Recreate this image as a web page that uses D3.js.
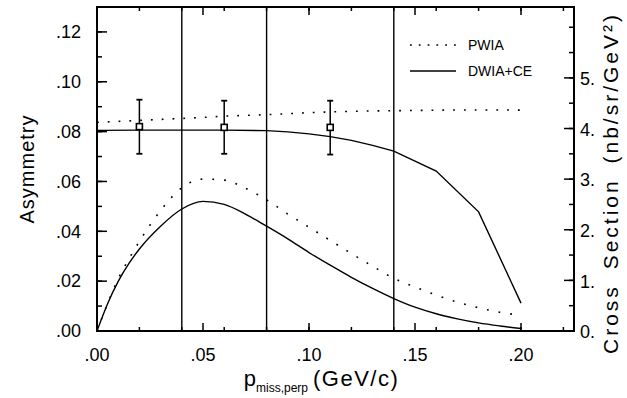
<!DOCTYPE html>
<html>
<head>
<meta charset="utf-8">
<script src="https://cdn.jsdelivr.net/npm/d3@7"></script>
<style>
  body { margin: 0; background: #fff; }
  text { font-family: "Liberation Sans", Arial, sans-serif; fill: #000; }
</style>
</head>
<body>
<div id="chart"></div>
<script>
// p_miss,perp values (GeV/c)
var pGrid = [0, 0.01, 0.02, 0.03, 0.04, 0.05, 0.06, 0.07, 0.08, 0.09, 0.10, 0.11, 0.12, 0.13, 0.14, 0.15, 0.16, 0.17, 0.18, 0.19, 0.20];
var pwiaAsym = [0.0837, 0.0841, 0.0845, 0.0849, 0.0853, 0.0857, 0.0862, 0.0865, 0.0868, 0.0872, 0.0876, 0.0879, 0.0881, 0.0883, 0.0884, 0.0885, 0.0886, 0.0887, 0.0887, 0.0887, 0.0886];
var dwiaPts = [0, 0.02, 0.04, 0.06, 0.08, 0.09, 0.10, 0.11, 0.12, 0.13, 0.14, 0.16, 0.18, 0.20];
var dwiaAsym = [0.0805, 0.0806, 0.0806, 0.0806, 0.0804, 0.0799, 0.0791, 0.0780, 0.0765, 0.0745, 0.0722, 0.0642, 0.0478, 0.0112];

// cross sections (nb/sr/GeV^2)
var csGrid = [0, 0.005, 0.01, 0.015, 0.02, 0.03, 0.04, 0.05, 0.06, 0.07, 0.08, 0.09, 0.10, 0.11, 0.12, 0.13, 0.14, 0.15, 0.16, 0.17, 0.18, 0.19, 0.20];
var pwiaCs = [0, 0.54, 1.03, 1.42, 1.77, 2.38, 2.83, 3.0, 2.98, 2.82, 2.59, 2.31, 2.05, 1.79, 1.53, 1.28, 1.04, 0.87, 0.71, 0.57, 0.46, 0.37, 0.31];
var dwiaCs = [0, 0.54, 0.98, 1.33, 1.62, 2.07, 2.41, 2.56, 2.5, 2.31, 2.07, 1.82, 1.55, 1.3, 1.06, 0.84, 0.64, 0.47, 0.34, 0.24, 0.16, 0.1, 0.05];

// measured asymmetries
var dataP = [0.02, 0.06, 0.11];
var dataA = [0.0820, 0.0817, 0.0817];
var dataHi = [0.0928, 0.0924, 0.0924];
var dataLo = [0.0711, 0.0711, 0.0708];

// bin edges
var binEdges = [0.04, 0.08, 0.14];

var xTicks = [0, 0.05, 0.10, 0.15, 0.20];
var xTickLabels = [".00", ".05", ".10", ".15", ".20"];
var yTicks = [0, 0.02, 0.04, 0.06, 0.08, 0.10, 0.12];
var yTickLabels = [".00", ".02", ".04", ".06", ".08", ".10", ".12"];
var rTicks = [0, 1, 2, 3, 4, 5];
var rTickLabels = ["0.", "1.", "2.", "3.", "4.", "5."];

var width = 627, height = 398;
var margin = {left: 97, right: 53, top: 7, bottom: 67};

var svg = d3.select('#chart')
  .append('svg')
  .attr('width', width)
  .attr('height', height);

var x = d3.scaleLinear().domain([0, 0.225]).range([margin.left, width - margin.right]);
var y = d3.scaleLinear().domain([0, 0.13]).range([height - margin.bottom, margin.top]);
var yR = d3.scaleLinear().domain([0, 6.4]).range([height - margin.bottom, margin.top]);

var x0 = x.range()[0], x1 = x.range()[1], yb = y.range()[0], yt = y.range()[1];

// ticks, all pointing inward
var tg = svg.append('g').attr('stroke', '#000').attr('stroke-width', 1.5);
function tickSet(vals, scale, orient, len) {
  vals.forEach(function(v) {
    var p = scale(v);
    if (orient === 'bottom') tg.append('line').attr('x1', p).attr('x2', p).attr('y1', yb).attr('y2', yb - len);
    if (orient === 'top') tg.append('line').attr('x1', p).attr('x2', p).attr('y1', yt).attr('y2', yt + len);
    if (orient === 'left') tg.append('line').attr('x1', x0).attr('x2', x0 + len).attr('y1', p).attr('y2', p);
    if (orient === 'right') tg.append('line').attr('x1', x1).attr('x2', x1 - len).attr('y1', p).attr('y2', p);
  });
}
tickSet(x.ticks(9), x, 'bottom', 4);
tickSet(xTicks, x, 'bottom', 8);
tickSet(x.ticks(9), x, 'top', 4);
tickSet(xTicks, x, 'top', 8);
tickSet(d3.range(0, 0.13, 0.01), y, 'left', 5);
tickSet(yTicks, y, 'left', 10);
tickSet(d3.range(0, 6.4, 0.5), yR, 'right', 5);
tickSet(rTicks, yR, 'right', 10);

// frame
svg.append('rect')
  .attr('x', x0).attr('y', yt)
  .attr('width', x1 - x0).attr('height', yb - yt)
  .attr('fill', 'none').attr('stroke', '#000').attr('stroke-width', 2);

// bin edges
svg.selectAll('.edge')
  .data(binEdges)
  .enter()
  .append('line')
  .attr('x1', function(d) { return x(d); })
  .attr('x2', function(d) { return x(d); })
  .attr('y1', yt).attr('y2', yb)
  .attr('stroke', '#000').attr('stroke-width', 1.4);

var lineA = d3.line().curve(d3.curveMonotoneX)
  .x(function(d) { return x(d[0]); })
  .y(function(d) { return y(d[1]); });
var lineAlin = d3.line()
  .x(function(d) { return x(d[0]); })
  .y(function(d) { return y(d[1]); });
var lineC = d3.line().curve(d3.curveMonotoneX)
  .x(function(d) { return x(d[0]); })
  .y(function(d) { return yR(d[1]); });

svg.append('path')
  .attr('d', lineA(d3.zip(pGrid, pwiaAsym)))
  .attr('fill', 'none').attr('stroke', '#000').attr('stroke-width', 1.6)
  .attr('stroke-dasharray', '1.8,9');
svg.append('path')
  .attr('d', lineAlin(d3.zip(dwiaPts, dwiaAsym)))
  .attr('fill', 'none').attr('stroke', '#000').attr('stroke-width', 1.4);
svg.append('path')
  .attr('d', lineC(d3.zip(csGrid, pwiaCs)))
  .attr('fill', 'none').attr('stroke', '#000').attr('stroke-width', 1.6)
  .attr('stroke-dasharray', '1.8,10');
svg.append('path')
  .attr('d', lineC(d3.zip(csGrid, dwiaCs)))
  .attr('fill', 'none').attr('stroke', '#000').attr('stroke-width', 1.4);

// data points with error bars
var pts = svg.selectAll('.pt')
  .data(d3.range(dataP.length))
  .enter()
  .append('g');
pts.append('line')
  .attr('x1', function(i) { return x(dataP[i]); })
  .attr('x2', function(i) { return x(dataP[i]); })
  .attr('y1', function(i) { return y(dataHi[i]); })
  .attr('y2', function(i) { return y(dataLo[i]); })
  .attr('stroke', '#000').attr('stroke-width', 1.5);
[dataHi, dataLo].forEach(function(arr) {
  pts.append('line')
    .attr('x1', function(i) { return x(dataP[i]) - 3; })
    .attr('x2', function(i) { return x(dataP[i]) + 3; })
    .attr('y1', function(i) { return y(arr[i]); })
    .attr('y2', function(i) { return y(arr[i]); })
    .attr('stroke', '#000').attr('stroke-width', 1.8);
});
pts.append('rect')
  .attr('x', function(i) { return x(dataP[i]) - 3; })
  .attr('y', function(i) { return y(dataA[i]) - 3; })
  .attr('width', 6).attr('height', 6)
  .attr('fill', '#fff').attr('stroke', '#000').attr('stroke-width', 1.6);

// tick labels
svg.selectAll('.xl')
  .data(xTicks)
  .enter()
  .append('text')
  .attr('x', function(d) { return x(d); })
  .attr('y', yb + 30)
  .attr('text-anchor', 'middle')
  .attr('font-size', 18)
  .text(function(d, i) { return xTickLabels[i]; });
svg.selectAll('.yl')
  .data(yTicks)
  .enter()
  .append('text')
  .attr('x', x0 - 16)
  .attr('y', function(d) { return y(d); })
  .attr('dy', '0.35em')
  .attr('text-anchor', 'end')
  .attr('font-size', 18)
  .text(function(d, i) { return yTickLabels[i]; });
svg.selectAll('.rl')
  .data(rTicks)
  .enter()
  .append('text')
  .attr('x', x1 + 6)
  .attr('y', function(d) { return yR(d); })
  .attr('dy', '0.4em')
  .attr('font-size', 18)
  .text(function(d, i) { return rTickLabels[i]; });

// axis titles
svg.append('text')
  .attr('transform', 'translate(34,' + ((yt + yb) / 2) + ') rotate(-90)')
  .attr('text-anchor', 'middle')
  .attr('font-size', 20)
  .attr('letter-spacing', 1)
  .text('Asymmetry');
svg.append('text')
  .attr('transform', 'translate(618,' + ((yt + yb) / 2 + 14) + ') rotate(-90)')
  .attr('text-anchor', 'middle')
  .attr('font-size', 21)
  .attr('letter-spacing', 3)
  .attr('word-spacing', 6)
  .text('Cross Section (nb/sr/GeV²)');

var xt = svg.append('text')
  .attr('x', (x0 + x1) / 2 - 14)
  .attr('y', yb + 55)
  .attr('text-anchor', 'middle')
  .attr('font-size', 22);
xt.append('tspan').text('p');
xt.append('tspan').attr('font-size', 12).attr('dy', 6).text('miss,perp');
xt.append('tspan').attr('dy', -6).attr('dx', 5).attr('letter-spacing', 1.5).text('(GeV/c)');

// legend
var legendItems = ['PWIA', 'DWIA+CE'];
var legendDash = ['1.8,7', null];
var legend = svg.selectAll('.legend')
  .data(legendItems)
  .enter()
  .append('g')
  .attr('transform', function(d, i) { return 'translate(410,' + (45 + i * 26) + ')'; });
legend.append('line')
  .attr('x1', 0).attr('x2', 46)
  .attr('stroke', '#000').attr('stroke-width', 1.6)
  .attr('stroke-dasharray', function(d, i) { return legendDash[i]; });
legend.append('text')
  .attr('x', 58)
  .attr('dy', '0.35em')
  .attr('font-size', 14)
  .text(function(d) { return d; });
</script>
</body>
</html>
